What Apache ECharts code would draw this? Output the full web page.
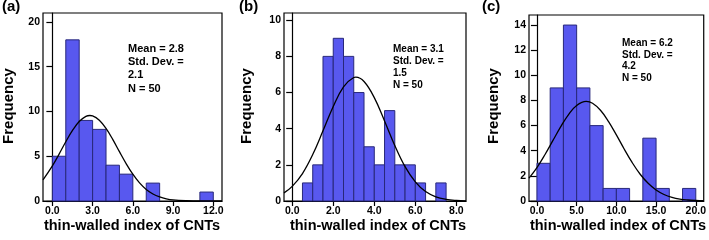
<!DOCTYPE html>
<html><head><meta charset="utf-8">
<script src="https://cdn.jsdelivr.net/npm/echarts@6/dist/echarts.min.js"></script>
<style>html,body{margin:0;padding:0;background:#fff}#c{width:709px;height:240px}</style>
</head><body><div id="c"></div>
<script>
// ---- Panel (a) ----
const binStartA = [0, 1, 2, 3, 4, 5, 7, 11];
const countsA = [5, 18, 9, 8, 4, 3, 2, 1];
const binWidthA = 1;
const xTicksA = [0, 3, 6, 9, 12];
const yTicksA = [0, 5, 10, 15, 20];
const curveXA = [-0.7, 0, 0.5, 1, 1.5, 2, 2.5, 2.8, 3, 3.5, 4, 4.5, 5, 5.5, 6, 6.5, 7, 7.5, 8, 8.5, 9, 10, 11, 12.65];
const curveYA = [2.37, 3.93, 5.24, 6.62, 7.89, 8.88, 9.45, 9.55, 9.51, 9.03, 8.11, 6.88, 5.51, 4.18, 2.99, 2.02, 1.29, 0.78, 0.45, 0.24, 0.12, 0.03, 0.0, 0.0];
const statsA = ['Mean = 2.8', 'Std. Dev. =', '2.1', 'N = 50'];

// ---- Panel (b) ----
const binStartB = [0.5, 1, 1.5, 2, 2.5, 3, 3.5, 4, 4.5, 5, 5.5, 6, 7];
const countsB = [1, 2, 8, 9, 8, 6, 3, 2, 5, 2, 2, 1, 1];
const binWidthB = 0.5;
const xTicksB = [0, 2, 4, 6, 8];
const yTicksB = [0, 2, 4, 6, 8, 10];
const curveXB = [-0.4, 0, 0.5, 1, 1.5, 2, 2.5, 3, 3.1, 3.5, 4, 4.5, 5, 5.5, 6, 6.5, 7, 7.5, 8, 8.47];
const curveYB = [0.45, 0.81, 1.52, 2.57, 3.88, 5.23, 6.32, 6.83, 6.85, 6.61, 5.72, 4.43, 3.07, 1.90, 1.06, 0.52, 0.23, 0.09, 0.03, 0.01];
const statsB = ['Mean = 3.1', 'Std. Dev. =', '1.5', 'N = 50'];

// ---- Panel (c) ----
const binStartC = [0, 1.667, 3.333, 5, 6.667, 8.333, 10, 13.333, 15, 18.333];
const countsC = [3, 9, 14, 9, 6, 1, 1, 5, 1, 1];
const binWidthC = 1.667;
const xTicksC = [0, 5, 10, 15, 20];
const yTicksC = [0, 2, 4, 6, 8, 10, 12, 14];
const curveXC = [-1, 0, 1, 2, 3, 4, 5, 6.2, 7, 8, 9, 10, 11, 12, 13, 14, 15, 16, 17, 18, 19, 20, 21];
const curveYC = [1.82, 2.66, 3.68, 4.80, 5.92, 6.90, 7.60, 7.92, 7.78, 7.22, 6.34, 5.26, 4.12, 3.05, 2.13, 1.41, 0.88, 0.52, 0.29, 0.15, 0.08, 0.04, 0.02];
const statsC = ['Mean = 6.2', 'Std. Dev. =', '4.2', 'N = 50'];

const panelLabels = ['(a)', '(b)', '(c)'];
const xTitle = 'thin-walled index of CNTs';
const yTitle = 'Frequency';

const FONT = 'Liberation Sans, Arial, sans-serif';
const BAR_FILL = '#5858ef';
const BAR_STROKE = '#28287a';

const panels = [
  {bins: binStartA, counts: countsA, w: binWidthA, xt: xTicksA, yt: yTicksA, cx: curveXA, cy: curveYA,
   grid: {left: 43, top: 13, width: 179, height: 188}, xmin: -0.7, xmax: 12.65, ymax: 21},
  {bins: binStartB, counts: countsB, w: binWidthB, xt: xTicksB, yt: yTicksB, cx: curveXB, cy: curveYB,
   grid: {left: 284, top: 13, width: 182, height: 188}, xmin: -0.4, xmax: 8.47, ymax: 10.4},
  {bins: binStartC, counts: countsC, w: binWidthC, xt: xTicksC, yt: yTicksC, cx: curveXC, cy: curveYC,
   grid: {left: 529, top: 15, width: 178, height: 186}, xmin: -1, xmax: 21, ymax: 14.8}
];

const grids = [], xAxes = [], yAxes = [], series = [];
panels.forEach((p, i) => {
  grids.push(Object.assign({show: true, borderColor: '#000', borderWidth: 1.2, backgroundColor: 'transparent'}, p.grid));
  xAxes.push({
    type: 'value', gridIndex: i, min: p.xmin, max: p.xmax,
    axisLine: {show: true, onZero: false, lineStyle: {color: '#000', width: 1.2}},
    axisTick: {show: true, customValues: p.xt, length: 5, lineStyle: {color: '#000', width: 1.2}},
    axisLabel: {show: true, customValues: p.xt, formatter: v => v.toFixed(1), color: '#000',
      fontFamily: FONT, fontWeight: 'bold', fontSize: 10.5, margin: 5},
    splitLine: {show: false}
  });
  yAxes.push({
    type: 'value', gridIndex: i, min: 0, max: p.ymax,
    axisLine: {show: true, lineStyle: {color: '#000', width: 1.2}},
    axisTick: {show: true, customValues: p.yt, length: 6, lineStyle: {color: '#000', width: 1.2}},
    axisLabel: {show: true, customValues: p.yt, formatter: v => String(v), color: '#000',
      fontFamily: FONT, fontWeight: 'bold', fontSize: 10.5, margin: 3},
    splitLine: {show: false}
  });
  series.push({
    type: 'custom', xAxisIndex: i, yAxisIndex: i,
    data: p.bins.map((s, k) => [s, s + p.w, p.counts[k]]),
    encode: {x: [0, 1], y: 2},
    renderItem: (params, api) => {
      const a = api.coord([api.value(0), api.value(2)]);
      const b = api.coord([api.value(1), 0]);
      return {type: 'rect', shape: {x: a[0], y: a[1], width: b[0] - a[0], height: b[1] - a[1]},
        style: {fill: BAR_FILL, stroke: BAR_STROKE, lineWidth: 1}};
    },
    z: 2
  });
  series.push({
    type: 'line', xAxisIndex: i, yAxisIndex: i, smooth: 0.4, showSymbol: false, symbol: 'none',
    data: p.cx.map((x, k) => [x, p.cy[k]]),
    lineStyle: {color: '#000', width: 1.3}, z: 3, clip: true
  });
});

const statPos = [
  {x: 128, y: 49, lh: 13.2, fs: 11, data: statsA},
  {x: 393, y: 49, lh: 12.2, fs: 10, data: statsB},
  {x: 622, y: 43, lh: 11.8, fs: 10, data: statsC}
];
const graphic = [];
statPos.forEach(s => {
  s.data.forEach((t, k) => {
    graphic.push({type: 'text', left: s.x, top: s.y + k * s.lh - s.fs / 2,
      style: {text: t, font: 'bold ' + s.fs + 'px ' + FONT, fill: '#000'}});
  });
});
const labelX = [2, 239, 482];
panelLabels.forEach((t, i) => {
  graphic.push({type: 'text', left: labelX[i], top: -1, style: {text: t, font: 'bold 15px ' + FONT, fill: '#000'}});
});
const yTitleX = [9, 247, 494];
const yTitleY = [106, 106, 106];
yTitleX.forEach((x, i) => {
  graphic.push({type: 'text', x: x, y: yTitleY[i], rotation: Math.PI / 2,
    style: {text: yTitle, font: 'bold 15px ' + FONT, fill: '#000', textAlign: 'center', textVerticalAlign: 'middle'}});
});
const xTitleX = [132, 378, 618];
xTitleX.forEach((x, i) => {
  graphic.push({type: 'text', x: x, y: 226,
    style: {text: xTitle, font: 'bold 14.5px ' + FONT, fill: '#000', textAlign: 'center', textVerticalAlign: 'middle'}});
});

const chart = echarts.init(document.getElementById('c'), null, {renderer: 'canvas'});
chart.setOption({
  animation: false,
  backgroundColor: '#fff',
  grid: grids, xAxis: xAxes, yAxis: yAxes, series: series, graphic: graphic
});
</script></body></html>
